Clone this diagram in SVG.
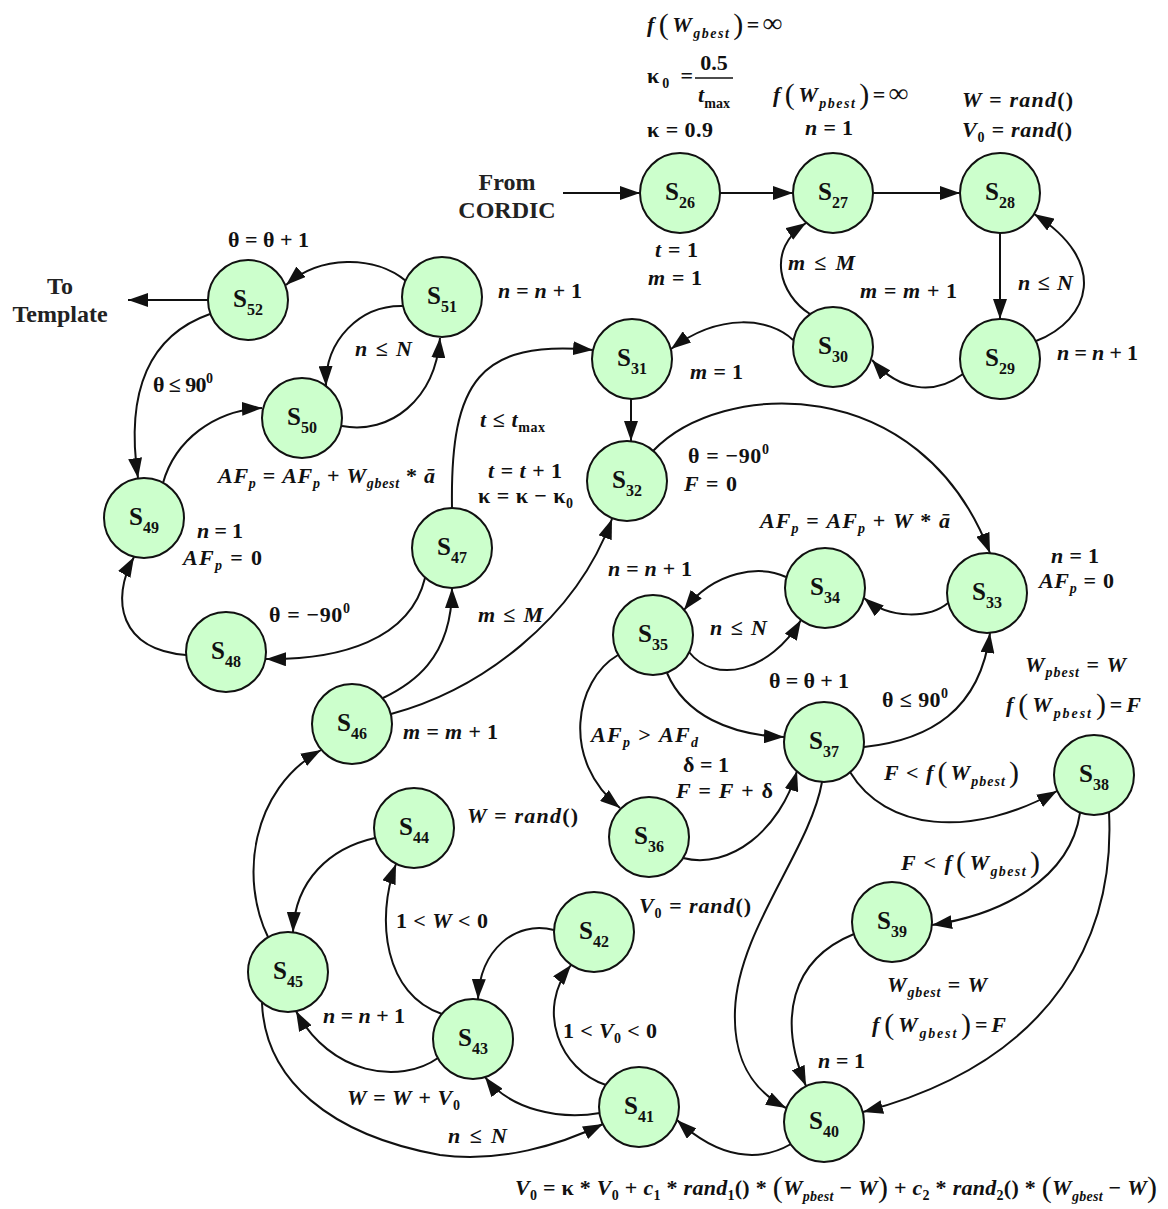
<svg xmlns="http://www.w3.org/2000/svg" width="1168" height="1209" viewBox="0 0 1168 1209">
<style>
  .node circle { fill: #ccffcc; stroke: #111; stroke-width: 2; }
  .nl { font-family: "Liberation Serif", "Times New Roman", serif; font-weight: bold; font-size: 25px; text-anchor: middle; fill: #111; }
  .ns { font-size: 16px; }
  #connectors path { fill: none; stroke: #111; stroke-width: 2; marker-end: url(#ah); }
  .m { font-family: "Liberation Serif", "Times New Roman", serif; font-weight: bold; font-style: italic; font-size: 22px; fill: #111; }
  .u { font-style: normal; }
  .sub { font-size: 14px; }
  .big { font-size: 30px; font-weight: normal; font-style: normal; }
  .inf { font-size: 27px; font-style: normal; }
  .lbl { font-family: "Liberation Serif", "Times New Roman", serif; font-weight: bold; font-size: 24px; text-anchor: middle; fill: #222; }
</style>
<defs>
  <marker id="ah" markerWidth="20" markerHeight="14" refX="20" refY="7" orient="auto" markerUnits="userSpaceOnUse">
    <path d="M0,0 L20,7 L0,14 z" fill="#111"/>
  </marker>
</defs>
<rect width="1168" height="1209" fill="#fff"/>

<!-- transitions -->
<g id="connectors">
  <path d="M563,193 H640"/>
  <path d="M720,193 H793"/>
  <path d="M873,193 H960"/>
  <path d="M1000,233 V319"/>
  <path d="M1036,341 C1090,320 1110,262 1034,214"/>
  <path d="M963,374 C935,395 900,392 872,360"/>
  <path d="M810,314 C780,295 765,250 806,223"/>
  <path d="M793,340 C770,318 720,312 671,349"/>
  <path d="M631,399 V441"/>
  <path d="M653,451 C720,380 920,370 990,553"/>
  <path d="M948,603 C930,618 890,620 864,598"/>
  <path d="M786,577 C760,565 715,570 684,610"/>
  <path d="M689,652 C715,685 770,672 801,620"/>
  <path d="M667,673 C685,715 730,735 784,737"/>
  <path d="M618,655 C575,680 560,760 620,808"/>
  <path d="M683,858 C730,870 780,830 797,771"/>
  <path d="M864,747 C930,740 980,710 990,633"/>
  <path d="M850,772 C885,830 970,840 1057,791"/>
  <path d="M822,782 C810,850 738,930 735,1010 C733,1060 752,1090 786,1108"/>
  <path d="M1080,813 C1070,880 1000,915 932,925"/>
  <path d="M1109,812 C1115,930 1060,1060 863,1112"/>
  <path d="M854,934 C790,960 778,1020 806,1086"/>
  <path d="M791,1144 C760,1162 720,1160 677,1120"/>
  <path d="M606,1085 C560,1070 535,1010 571,965"/>
  <path d="M554,930 C515,920 480,950 478,999"/>
  <path d="M600,1113 C560,1120 510,1110 485,1077"/>
  <path d="M442,1014 C385,995 375,920 396,864"/>
  <path d="M375,838 C330,848 295,880 293,932"/>
  <path d="M438,1058 C400,1085 330,1075 296,1011"/>
  <path d="M262,1003 C265,1080 330,1135 440,1155 C500,1163 560,1145 603,1124"/>
  <path d="M268,937 C240,880 250,790 321,750"/>
  <path d="M383,698 C410,685 452,660 452,588"/>
  <path d="M391,714 C480,690 575,620 612,519"/>
  <path d="M425,578 C410,640 340,660 266,659"/>
  <path d="M452,508 C450,380 480,340 593,350"/>
  <path d="M186,655 C120,650 110,600 134,557"/>
  <path d="M163,483 C175,440 215,410 262,408"/>
  <path d="M342,426 C390,435 435,400 440,338"/>
  <path d="M403,306 C360,305 325,340 326,386"/>
  <path d="M406,281 C375,255 320,255 286,285"/>
  <path d="M210,314 C150,335 125,390 138,478"/>
  <path d="M208,300 L128,300"/>
</g>

<!-- states -->
<g id="s26" class="node"><circle cx="680" cy="193" r="40"/><text class="nl" x="680" y="200">S<tspan class="ns" dy="8">26</tspan></text></g>
<g id="s27" class="node"><circle cx="833" cy="193" r="40"/><text class="nl" x="833" y="200">S<tspan class="ns" dy="8">27</tspan></text></g>
<g id="s28" class="node"><circle cx="1000" cy="193" r="40"/><text class="nl" x="1000" y="200">S<tspan class="ns" dy="8">28</tspan></text></g>
<g id="s29" class="node"><circle cx="1000" cy="359" r="40"/><text class="nl" x="1000" y="366">S<tspan class="ns" dy="8">29</tspan></text></g>
<g id="s30" class="node"><circle cx="833" cy="347" r="40"/><text class="nl" x="833" y="354">S<tspan class="ns" dy="8">30</tspan></text></g>
<g id="s31" class="node"><circle cx="632" cy="359" r="40"/><text class="nl" x="632" y="366">S<tspan class="ns" dy="8">31</tspan></text></g>
<g id="s32" class="node"><circle cx="627" cy="481" r="40"/><text class="nl" x="627" y="488">S<tspan class="ns" dy="8">32</tspan></text></g>
<g id="s33" class="node"><circle cx="987" cy="593" r="40"/><text class="nl" x="987" y="600">S<tspan class="ns" dy="8">33</tspan></text></g>
<g id="s34" class="node"><circle cx="825" cy="588" r="40"/><text class="nl" x="825" y="595">S<tspan class="ns" dy="8">34</tspan></text></g>
<g id="s35" class="node"><circle cx="653" cy="635" r="40"/><text class="nl" x="653" y="642">S<tspan class="ns" dy="8">35</tspan></text></g>
<g id="s36" class="node"><circle cx="649" cy="837" r="40"/><text class="nl" x="649" y="844">S<tspan class="ns" dy="8">36</tspan></text></g>
<g id="s37" class="node"><circle cx="824" cy="742" r="40"/><text class="nl" x="824" y="749">S<tspan class="ns" dy="8">37</tspan></text></g>
<g id="s38" class="node"><circle cx="1094" cy="775" r="40"/><text class="nl" x="1094" y="782">S<tspan class="ns" dy="8">38</tspan></text></g>
<g id="s39" class="node"><circle cx="892" cy="922" r="40"/><text class="nl" x="892" y="929">S<tspan class="ns" dy="8">39</tspan></text></g>
<g id="s40" class="node"><circle cx="824" cy="1122" r="40"/><text class="nl" x="824" y="1129">S<tspan class="ns" dy="8">40</tspan></text></g>
<g id="s41" class="node"><circle cx="639" cy="1107" r="40"/><text class="nl" x="639" y="1114">S<tspan class="ns" dy="8">41</tspan></text></g>
<g id="s42" class="node"><circle cx="594" cy="932" r="40"/><text class="nl" x="594" y="939">S<tspan class="ns" dy="8">42</tspan></text></g>
<g id="s43" class="node"><circle cx="473" cy="1039" r="40"/><text class="nl" x="473" y="1046">S<tspan class="ns" dy="8">43</tspan></text></g>
<g id="s44" class="node"><circle cx="414" cy="828" r="40"/><text class="nl" x="414" y="835">S<tspan class="ns" dy="8">44</tspan></text></g>
<g id="s45" class="node"><circle cx="288" cy="972" r="40"/><text class="nl" x="288" y="979">S<tspan class="ns" dy="8">45</tspan></text></g>
<g id="s46" class="node"><circle cx="352" cy="724" r="40"/><text class="nl" x="352" y="731">S<tspan class="ns" dy="8">46</tspan></text></g>
<g id="s47" class="node"><circle cx="452" cy="548" r="40"/><text class="nl" x="452" y="555">S<tspan class="ns" dy="8">47</tspan></text></g>
<g id="s48" class="node"><circle cx="226" cy="652" r="40"/><text class="nl" x="226" y="659">S<tspan class="ns" dy="8">48</tspan></text></g>
<g id="s49" class="node"><circle cx="144" cy="518" r="40"/><text class="nl" x="144" y="525">S<tspan class="ns" dy="8">49</tspan></text></g>
<g id="s50" class="node"><circle cx="302" cy="418" r="40"/><text class="nl" x="302" y="425">S<tspan class="ns" dy="8">50</tspan></text></g>
<g id="s51" class="node"><circle cx="442" cy="297" r="40"/><text class="nl" x="442" y="304">S<tspan class="ns" dy="8">51</tspan></text></g>
<g id="s52" class="node"><circle cx="248" cy="300" r="40"/><text class="nl" x="248" y="307">S<tspan class="ns" dy="8">52</tspan></text></g>

<!-- actions and conditions -->
<g id="labels">
  <text class="lbl" x="507" y="190">From</text>
  <text class="lbl" x="507" y="218">CORDIC</text>
  <text class="lbl" x="60" y="294">To</text>
  <text class="lbl" x="60" y="322">Template</text>

  <text class="m" x="647" y="32" textLength="135">f<tspan class="big" dy="2" dx="3">(</tspan><tspan dy="-2" dx="2">W</tspan><tspan class="sub" dy="6">gbest</tspan><tspan class="big" dy="-4" dx="3">)</tspan><tspan class="u" dy="-2" dx="2">=</tspan><tspan class="inf" dx="2">∞</tspan></text>
  <text class="m u" x="647" y="83" textLength="46">κ<tspan class="sub" dy="5">0</tspan><tspan dy="-5"> =</tspan></text>
  <text class="m u" x="714" y="70" text-anchor="middle">0.5</text>
  <line x1="695" y1="78" x2="733" y2="78" stroke="#111" stroke-width="1.6"/>
  <text class="m" x="714" y="102" text-anchor="middle">t<tspan class="sub u" dy="6">max</tspan></text>
  <text class="m u" x="647" y="137" textLength="66">κ = 0.9</text>

  <text class="m" x="773" y="102" textLength="135">f<tspan class="big" dy="2" dx="3">(</tspan><tspan dy="-2" dx="2">W</tspan><tspan class="sub" dy="6">pbest</tspan><tspan class="big" dy="-4" dx="3">)</tspan><tspan class="u" dy="-2" dx="2">=</tspan><tspan class="inf" dx="2">∞</tspan></text>
  <text class="m" x="805" y="135" textLength="48">n = <tspan class="u">1</tspan></text>
  <text class="m" x="962" y="107" textLength="111">W = rand<tspan class="u">()</tspan></text>
  <text class="m" x="962" y="137" textLength="110">V<tspan class="sub u" dy="5">0</tspan><tspan dy="-5"> = rand</tspan><tspan class="u">()</tspan></text>

  <text class="m" x="655" y="257" textLength="43">t = <tspan class="u">1</tspan></text>
  <text class="m" x="648" y="285" textLength="54">m = <tspan class="u">1</tspan></text>
  <text class="m" x="788" y="270" textLength="67">m <tspan class="u">≤</tspan> M</text>
  <text class="m" x="860" y="298" textLength="97">m = m + <tspan class="u">1</tspan></text>
  <text class="m" x="1018" y="290" textLength="55">n <tspan class="u">≤</tspan> N</text>
  <text class="m" x="1057" y="360" textLength="81">n = n + <tspan class="u">1</tspan></text>

  <text class="m u" x="228" y="247" textLength="81">θ = θ + 1</text>
  <text class="m" x="498" y="298" textLength="84">n = n + <tspan class="u">1</tspan></text>
  <text class="m" x="355" y="356" textLength="57">n <tspan class="u">≤</tspan> N</text>
  <text class="m u" x="153" y="392" textLength="60">θ ≤ 90<tspan class="sub" dy="-9">0</tspan></text>
  <text class="m" x="218" y="483" textLength="217">AF<tspan class="sub" dy="5">p</tspan><tspan class="u" dy="-5"> = </tspan>AF<tspan class="sub" dy="5">p</tspan><tspan class="u" dy="-5"> + </tspan>W<tspan class="sub" dy="5">gbest</tspan><tspan class="u" dy="-5"> * </tspan>ā</text>
  <text class="m" x="480" y="427" textLength="65">t <tspan class="u">≤</tspan> t<tspan class="sub u" dy="5">max</tspan></text>
  <text class="m" x="488" y="478" textLength="74">t = t + <tspan class="u">1</tspan></text>
  <text class="m u" x="478" y="503" textLength="95">κ = κ − κ<tspan class="sub" dy="5">0</tspan></text>
  <text class="m" x="690" y="379" textLength="53">m = <tspan class="u">1</tspan></text>
  <text class="m u" x="688" y="463" textLength="81">θ = −90<tspan class="sub" dy="-9">0</tspan></text>
  <text class="m" x="684" y="491" textLength="53">F = <tspan class="u">0</tspan></text>
  <text class="m" x="760" y="528" textLength="190">AF<tspan class="sub" dy="5">p</tspan><tspan class="u" dy="-5"> = </tspan>AF<tspan class="sub" dy="5">p</tspan><tspan class="u" dy="-5"> + </tspan>W<tspan class="u"> * </tspan>ā</text>

  <text class="m" x="1051" y="563" textLength="48">n = <tspan class="u">1</tspan></text>
  <text class="m" x="1039" y="588" textLength="75">AF<tspan class="sub" dy="5">p</tspan><tspan class="u" dy="-5"> = 0</tspan></text>
  <text class="m" x="197" y="538" textLength="46">n = <tspan class="u">1</tspan></text>
  <text class="m" x="183" y="565" textLength="79">AF<tspan class="sub" dy="5">p</tspan><tspan class="u" dy="-5"> = 0</tspan></text>
  <text class="m u" x="269" y="622" textLength="81">θ = −90<tspan class="sub" dy="-9">0</tspan></text>
  <text class="m" x="478" y="622" textLength="65">m <tspan class="u">≤</tspan> M</text>
  <text class="m" x="608" y="576" textLength="84">n = n + <tspan class="u">1</tspan></text>
  <text class="m" x="710" y="635" textLength="57">n <tspan class="u">≤</tspan> N</text>

  <text class="m u" x="769" y="688" textLength="80">θ = θ + 1</text>
  <text class="m u" x="882" y="707" textLength="66">θ ≤ 90<tspan class="sub" dy="-9">0</tspan></text>
  <text class="m" x="1025" y="672" textLength="101">W<tspan class="sub" dy="5">pbest</tspan><tspan class="u" dy="-5"> = </tspan>W</text>
  <text class="m" x="1006" y="712" textLength="135">f<tspan class="big" dy="2" dx="3">(</tspan><tspan dy="-2" dx="2">W</tspan><tspan class="sub" dy="6">pbest</tspan><tspan class="big" dy="-4" dx="3">)</tspan><tspan class="u" dy="-2" dx="2">=</tspan><tspan dx="2">F</tspan></text>
  <text class="m" x="591" y="742" textLength="107">AF<tspan class="sub" dy="5">p</tspan><tspan class="u" dy="-5"> &gt; </tspan>AF<tspan class="sub" dy="5">d</tspan></text>
  <text class="m u" x="683" y="772" textLength="46">δ = 1</text>
  <text class="m" x="676" y="798" textLength="97">F = F + <tspan class="u">δ</tspan></text>
  <text class="m" x="884" y="780" textLength="135">F <tspan class="u">&lt;</tspan> f<tspan class="big" dy="2" dx="3">(</tspan><tspan dy="-2" dx="2">W</tspan><tspan class="sub" dy="6">pbest</tspan><tspan class="big" dy="-4" dx="3">)</tspan></text>

  <text class="m" x="403" y="739" textLength="95">m = m + <tspan class="u">1</tspan></text>
  <text class="m" x="467" y="823" textLength="111">W = rand<tspan class="u">()</tspan></text>
  <text class="m" x="901" y="870" textLength="139">F <tspan class="u">&lt;</tspan> f<tspan class="big" dy="2" dx="3">(</tspan><tspan dy="-2" dx="2">W</tspan><tspan class="sub" dy="6">gbest</tspan><tspan class="big" dy="-4" dx="3">)</tspan></text>
  <text class="m" x="639" y="913" textLength="112">V<tspan class="sub u" dy="5">0</tspan><tspan dy="-5"> = rand</tspan><tspan class="u">()</tspan></text>
  <text class="m" x="396" y="928" textLength="92"><tspan class="u">1 &lt; </tspan>W<tspan class="u"> &lt; 0</tspan></text>
  <text class="m" x="887" y="992" textLength="100">W<tspan class="sub" dy="5">gbest</tspan><tspan class="u" dy="-5"> = </tspan>W</text>
  <text class="m" x="872" y="1032" textLength="134">f<tspan class="big" dy="2" dx="3">(</tspan><tspan dy="-2" dx="2">W</tspan><tspan class="sub" dy="6">gbest</tspan><tspan class="big" dy="-4" dx="3">)</tspan><tspan class="u" dy="-2" dx="2">=</tspan><tspan dx="2">F</tspan></text>
  <text class="m" x="563" y="1038" textLength="94"><tspan class="u">1 &lt; </tspan>V<tspan class="sub u" dy="5">0</tspan><tspan class="u" dy="-5"> &lt; 0</tspan></text>
  <text class="m" x="323" y="1023" textLength="82">n = n + <tspan class="u">1</tspan></text>
  <text class="m" x="818" y="1068" textLength="47">n = <tspan class="u">1</tspan></text>
  <text class="m" x="347" y="1105" textLength="113">W = W + V<tspan class="sub u" dy="5">0</tspan></text>
  <text class="m" x="448" y="1143" textLength="59">n <tspan class="u">≤</tspan> N</text>

  <text class="m" x="515" y="1195" textLength="642">V<tspan class="sub u" dy="5">0</tspan><tspan class="u" dy="-5"> = κ * </tspan>V<tspan class="sub u" dy="5">0</tspan><tspan class="u" dy="-5"> + </tspan>c<tspan class="sub u" dy="5">1</tspan><tspan class="u" dy="-5"> * </tspan>rand<tspan class="sub u" dy="5">1</tspan><tspan class="u" dy="-5">() * </tspan><tspan class="big" dy="2">(</tspan><tspan dy="-2">W</tspan><tspan class="sub" dy="6">pbest</tspan><tspan class="u" dy="-6"> − </tspan>W<tspan class="big" dy="2">)</tspan><tspan class="u" dy="-2"> + </tspan>c<tspan class="sub u" dy="5">2</tspan><tspan class="u" dy="-5"> * </tspan>rand<tspan class="sub u" dy="5">2</tspan><tspan class="u" dy="-5">() * </tspan><tspan class="big" dy="2">(</tspan><tspan dy="-2">W</tspan><tspan class="sub" dy="6">gbest</tspan><tspan class="u" dy="-6"> − </tspan>W<tspan class="big" dy="2">)</tspan></text>
</g>
</svg>
